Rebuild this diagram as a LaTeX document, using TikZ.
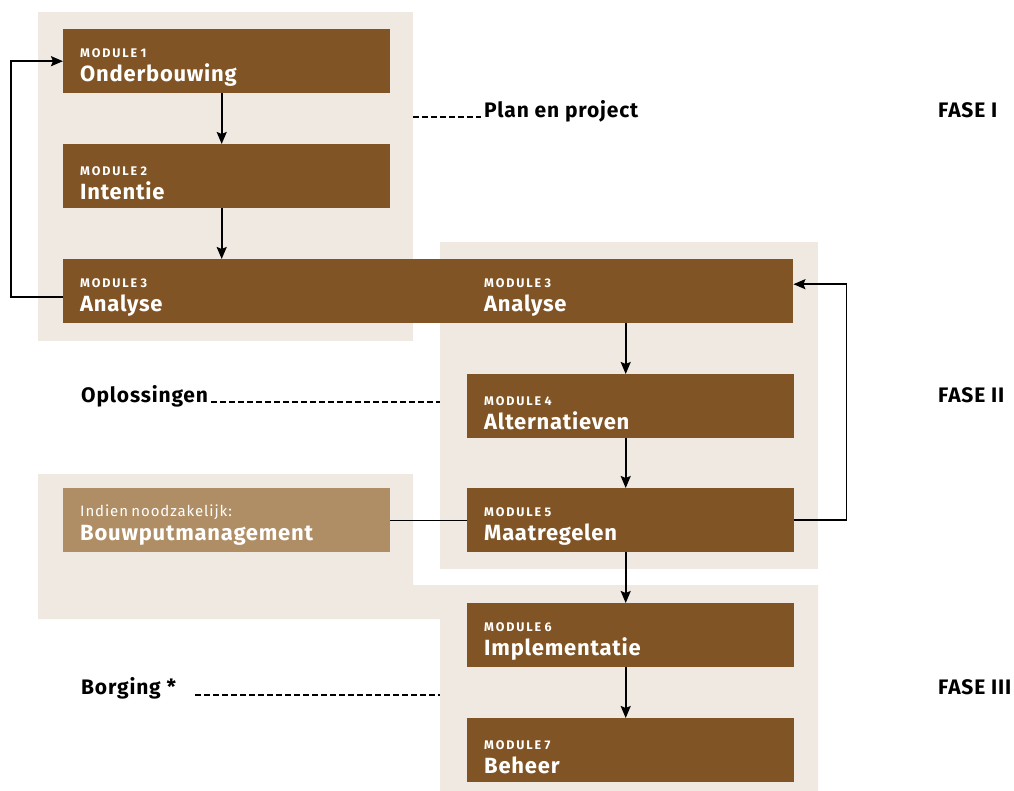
\documentclass[tikz,border=0pt]{standalone}
\usepackage{fontspec}
\setmainfont{Fira Sans}
\usetikzlibrary{arrows.meta,positioning}

\definecolor{modbrown}{RGB}{128,84,36}
\definecolor{optbrown}{RGB}{176,142,101}
\definecolor{panelbg}{RGB}{240,233,226}

\newcommand{\modnr}[1]{\rule{0pt}{22pt}{\fontsize{12.5}{12}\selectfont\bfseries\addfontfeature{LetterSpace=15}#1}}
\newcommand{\modname}[1]{{\fontsize{22}{23}\selectfont\bfseries\addfontfeature{LetterSpace=3.5}#1}}

\begin{document}
\begin{tikzpicture}[x=1pt,y=-1pt,
  module/.style={fill=modbrown, text=white, anchor=north west, inner xsep=17pt, inner ysep=0pt,
    minimum height=64pt, text width=#1, align=left, font=\fontsize{10}{24}\selectfont},
  module/.default=293pt,
  flow/.style={line width=1.8pt, -{Stealth[length=12pt,width=10pt,inset=2pt]}},
  link/.style={line width=1.4pt},
  guide/.style={line width=1.1pt, dash pattern=on 6pt off 3pt},
  phase/.style={anchor=base west, inner sep=0pt,
    font=\fontsize{21}{22}\selectfont\bfseries\addfontfeature{LetterSpace=4}}]

  \useasboundingbox (0,0) rectangle (1014,791);

  % panels
  \fill[panelbg] (38,12) rectangle (413,341);
  \fill[panelbg] (440,242) rectangle (818,569);
  \fill[panelbg] (38,474) -- (413,474) -- (413,585) -- (818,585) -- (818,791)
    -- (440,791) -- (440,619) -- (38,619) -- cycle;

  % modules
  \foreach \n/\x/\y/\name in {1/63/29/Onderbouwing, 2/63/144/Intentie, 4/467/374/Alternatieven,
      5/467/488/Maatregelen, 6/467/603/Implementatie, 7/467/718/Beheer}
    \node[module] (m\n) at (\x,\y) {\modnr{MODULE \n}\\\modname{\name}};
  \node[module=696pt] (m3) at (63,259) {\modnr{MODULE 3}\\\modname{Analyse}};
  \node[module, fill=none] (m3b) at (467,259) {\modnr{MODULE 3}\\\modname{Analyse}};
  \node[module, fill=optbrown] (bp) at (63,488)
    {\rule{0pt}{22pt}{\fontsize{15}{16}\selectfont\addfontfeature{LetterSpace=6}Indien noodzakelijk:}\\\modname{Bouwputmanagement}};

  % connectors
  \draw[flow] ([xshift=-5pt]m1.south) -- ([xshift=-5pt]m2.north);
  \draw[flow] ([xshift=-5pt]m2.south) -- ([xshift=-5pt]m2.south |- m3.north);
  \draw[flow] ([xshift=-5pt]m4.north |- m3.south) -- ([xshift=-5pt]m4.north);
  \draw[flow] ([xshift=-5pt]m4.south) -- ([xshift=-5pt]m5.north);
  \draw[flow] ([xshift=-5pt]m5.south) -- ([xshift=-5pt]m6.north);
  \draw[flow] ([xshift=-5pt]m6.south) -- ([xshift=-5pt]m7.north);
  \draw[flow] ([yshift=-6pt]m3.west) -- ++(-52,0) |- (m1.west);
  \draw[flow] (m5.east) -- ++(52,0) |- ([yshift=7pt]m3.east);
  \draw[link] (bp) -- (m5);

  % phases
  \node[phase] (plan) at (484,118) {Plan en project};
  \node[phase] (opl) at (81,402) {Oplossingen};
  \node[phase] (borg) at (81,694) {Borging *};
  \node[phase] (f1) at (938,118) {FASE I};
  \node[phase] (f2) at (938,402) {FASE II};
  \node[phase] (f3) at (938,694) {FASE III};

  \coordinate (p1e) at (413,117);
  \coordinate (p2w) at (440,402);
  \coordinate (p4w) at (440,695);
  \draw[guide] (p1e) -- ([xshift=-3pt,yshift=1pt]plan.base west);
  \draw[guide] ([xshift=3pt]opl.base east) -- (p2w);
  \draw[guide] ([xshift=19pt,yshift=-1pt]borg.base east) -- (p4w);

\end{tikzpicture}
\end{document}
